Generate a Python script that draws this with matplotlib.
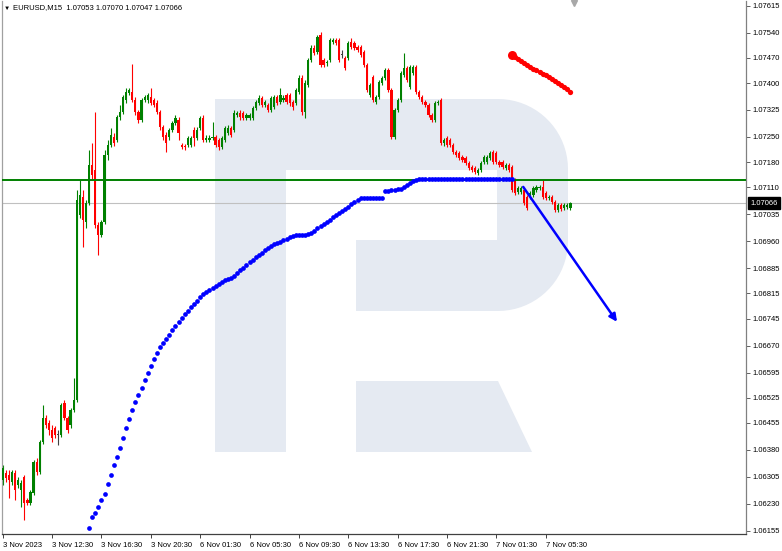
import numpy as np
import matplotlib
matplotlib.use("Agg")
import matplotlib.pyplot as plt
from matplotlib.patches import Polygon
import matplotlib.transforms as mtransforms

plt.rcParams['font.family'] = ['Liberation Sans', 'DejaVu Sans']

# EURUSD M15 candles, one entry per bar
opens = [
    1.06296, 1.06316, 1.06310, 1.06291, 1.06316, 1.06282, 1.06268, 1.06304, 1.06241, 1.06232,
    1.06260, 1.06346, 1.06318, 1.06402, 1.06469, 1.06455, 1.06435, 1.06441, 1.06421, 1.06421,
    1.06510, 1.06469, 1.06449, 1.06491, 1.06519, 1.07033, 1.07083, 1.07014, 1.07066, 1.07172,
    1.07158, 1.07005, 1.06977, 1.07014, 1.07200, 1.07228, 1.07250, 1.07242, 1.07306, 1.07320,
    1.07353, 1.07372, 1.07375, 1.07353, 1.07320, 1.07297, 1.07353, 1.07353, 1.07361, 1.07353,
    1.07345, 1.07320, 1.07278, 1.07256, 1.07250, 1.07270, 1.07289, 1.07297, 1.07228, 1.07225,
    1.07228, 1.07228, 1.07270, 1.07247, 1.07275, 1.07303, 1.07242, 1.07242, 1.07247, 1.07250,
    1.07242, 1.07222, 1.07242, 1.07261, 1.07275, 1.07270, 1.07311, 1.07317, 1.07317, 1.07303,
    1.07303, 1.07303, 1.07331, 1.07345, 1.07358, 1.07339, 1.07339, 1.07325, 1.07333, 1.07361,
    1.07347, 1.07353, 1.07367, 1.07367, 1.07347, 1.07345, 1.07375, 1.07414, 1.07320, 1.07395,
    1.07464, 1.07498, 1.07486, 1.07534, 1.07464, 1.07456, 1.07464, 1.07514, 1.07520, 1.07520,
    1.07478, 1.07470, 1.07470, 1.07514, 1.07511, 1.07500, 1.07500, 1.07486, 1.07450, 1.07367,
    1.07417, 1.07347, 1.07361, 1.07400, 1.07414, 1.07436, 1.07381, 1.07250, 1.07325, 1.07353,
    1.07422, 1.07442, 1.07389, 1.07428, 1.07445, 1.07375, 1.07361, 1.07347, 1.07339, 1.07311,
    1.07297, 1.07345, 1.07353, 1.07233, 1.07247, 1.07242, 1.07228, 1.07208, 1.07206, 1.07194,
    1.07192, 1.07178, 1.07167, 1.07164, 1.07150, 1.07158, 1.07181, 1.07181, 1.07192, 1.07208,
    1.07206, 1.07181, 1.07181, 1.07164, 1.07172, 1.07167, 1.07130, 1.07097, 1.07097, 1.07103,
    1.07083, 1.07083, 1.07089, 1.07103, 1.07108, 1.07111, 1.07094, 1.07080, 1.07083, 1.07069,
    1.07047, 1.07061, 1.07053, 1.07055, 1.07053]
closes = [
    1.06329, 1.06302, 1.06296, 1.06318, 1.06268, 1.06296, 1.06288, 1.06232, 1.06232, 1.06263,
    1.06346, 1.06318, 1.06402, 1.06469, 1.06449, 1.06435, 1.06413, 1.06421, 1.06421, 1.06505,
    1.06469, 1.06435, 1.06491, 1.06519, 1.07075, 1.07089, 1.07019, 1.07066, 1.07172, 1.07144,
    1.07005, 1.06977, 1.07014, 1.07200, 1.07228, 1.07256, 1.07233, 1.07306, 1.07320, 1.07361,
    1.07375, 1.07381, 1.07353, 1.07320, 1.07297, 1.07353, 1.07361, 1.07367, 1.07345, 1.07339,
    1.07320, 1.07278, 1.07250, 1.07233, 1.07270, 1.07289, 1.07303, 1.07261, 1.07222, 1.07222,
    1.07247, 1.07247, 1.07247, 1.07270, 1.07303, 1.07242, 1.07247, 1.07247, 1.07250, 1.07228,
    1.07222, 1.07247, 1.07275, 1.07275, 1.07256, 1.07317, 1.07317, 1.07306, 1.07303, 1.07311,
    1.07311, 1.07331, 1.07347, 1.07358, 1.07339, 1.07347, 1.07325, 1.07358, 1.07361, 1.07345,
    1.07367, 1.07358, 1.07347, 1.07345, 1.07333, 1.07381, 1.07414, 1.07320, 1.07400, 1.07464,
    1.07498, 1.07484, 1.07528, 1.07450, 1.07450, 1.07459, 1.07520, 1.07520, 1.07511, 1.07464,
    1.07478, 1.07442, 1.07511, 1.07500, 1.07498, 1.07492, 1.07478, 1.07450, 1.07381, 1.07395,
    1.07353, 1.07361, 1.07403, 1.07414, 1.07436, 1.07381, 1.07250, 1.07325, 1.07353, 1.07428,
    1.07442, 1.07409, 1.07445, 1.07445, 1.07375, 1.07361, 1.07347, 1.07339, 1.07311, 1.07297,
    1.07345, 1.07347, 1.07233, 1.07242, 1.07228, 1.07228, 1.07208, 1.07200, 1.07192, 1.07186,
    1.07178, 1.07164, 1.07158, 1.07153, 1.07158, 1.07178, 1.07194, 1.07194, 1.07206, 1.07181,
    1.07181, 1.07172, 1.07167, 1.07172, 1.07158, 1.07103, 1.07094, 1.07108, 1.07108, 1.07066,
    1.07053, 1.07094, 1.07108, 1.07111, 1.07111, 1.07083, 1.07080, 1.07083, 1.07069, 1.07047,
    1.07061, 1.07050, 1.07061, 1.07061, 1.07066]
highs = [
    1.06338, 1.06324, 1.06324, 1.06324, 1.06324, 1.06304, 1.06296, 1.06310, 1.06246, 1.06268,
    1.06352, 1.06357, 1.06407, 1.06505, 1.06477, 1.06463, 1.06449, 1.06446, 1.06435, 1.06510,
    1.06519, 1.06474, 1.06496, 1.06580, 1.07103, 1.07130, 1.07103, 1.07075, 1.07214, 1.07233,
    1.07320, 1.07014, 1.07019, 1.07214, 1.07242, 1.07275, 1.07261, 1.07311, 1.07339, 1.07367,
    1.07386, 1.07386, 1.07453, 1.07361, 1.07325, 1.07358, 1.07367, 1.07372, 1.07386, 1.07358,
    1.07353, 1.07325, 1.07283, 1.07264, 1.07275, 1.07295, 1.07311, 1.07306, 1.07233, 1.07230,
    1.07253, 1.07253, 1.07278, 1.07278, 1.07308, 1.07311, 1.07256, 1.07256, 1.07292, 1.07256,
    1.07247, 1.07253, 1.07281, 1.07283, 1.07281, 1.07325, 1.07322, 1.07325, 1.07322, 1.07317,
    1.07317, 1.07336, 1.07353, 1.07367, 1.07364, 1.07353, 1.07345, 1.07364, 1.07367, 1.07367,
    1.07386, 1.07367, 1.07372, 1.07372, 1.07353, 1.07386, 1.07422, 1.07422, 1.07409, 1.07470,
    1.07506, 1.07506, 1.07534, 1.07542, 1.07470, 1.07464, 1.07525, 1.07525, 1.07525, 1.07525,
    1.07492, 1.07475, 1.07517, 1.07525, 1.07517, 1.07506, 1.07506, 1.07492, 1.07456, 1.07400,
    1.07422, 1.07367, 1.07409, 1.07420, 1.07442, 1.07442, 1.07386, 1.07331, 1.07358, 1.07434,
    1.07484, 1.07447, 1.07450, 1.07450, 1.07450, 1.07381, 1.07367, 1.07353, 1.07345, 1.07317,
    1.07350, 1.07353, 1.07358, 1.07247, 1.07253, 1.07247, 1.07233, 1.07214, 1.07211, 1.07200,
    1.07197, 1.07183, 1.07172, 1.07169, 1.07164, 1.07183, 1.07200, 1.07200, 1.07211, 1.07214,
    1.07211, 1.07186, 1.07186, 1.07178, 1.07178, 1.07172, 1.07136, 1.07114, 1.07114, 1.07108,
    1.07089, 1.07100, 1.07114, 1.07117, 1.07117, 1.07130, 1.07100, 1.07089, 1.07089, 1.07075,
    1.07066, 1.07066, 1.07066, 1.07066, 1.07070]
lows = [
    1.06282, 1.06291, 1.06246, 1.06282, 1.06241, 1.06274, 1.06221, 1.06185, 1.06227, 1.06227,
    1.06254, 1.06310, 1.06313, 1.06396, 1.06441, 1.06421, 1.06402, 1.06413, 1.06393, 1.06416,
    1.06463, 1.06427, 1.06441, 1.06485, 1.06513, 1.07025, 1.06944, 1.06997, 1.07061, 1.07130,
    1.06997, 1.06922, 1.06972, 1.07008, 1.07186, 1.07222, 1.07225, 1.07236, 1.07297, 1.07314,
    1.07345, 1.07367, 1.07347, 1.07311, 1.07289, 1.07292, 1.07347, 1.07345, 1.07339, 1.07333,
    1.07314, 1.07270, 1.07242, 1.07208, 1.07242, 1.07264, 1.07283, 1.07242, 1.07217, 1.07214,
    1.07222, 1.07222, 1.07225, 1.07242, 1.07270, 1.07236, 1.07236, 1.07236, 1.07242, 1.07222,
    1.07214, 1.07217, 1.07236, 1.07256, 1.07250, 1.07264, 1.07306, 1.07297, 1.07297, 1.07297,
    1.07297, 1.07297, 1.07325, 1.07339, 1.07333, 1.07333, 1.07320, 1.07320, 1.07328, 1.07339,
    1.07342, 1.07347, 1.07342, 1.07336, 1.07325, 1.07339, 1.07370, 1.07311, 1.07303, 1.07389,
    1.07459, 1.07478, 1.07481, 1.07445, 1.07445, 1.07447, 1.07459, 1.07509, 1.07506, 1.07459,
    1.07470, 1.07436, 1.07464, 1.07495, 1.07492, 1.07486, 1.07472, 1.07445, 1.07375, 1.07361,
    1.07347, 1.07342, 1.07356, 1.07395, 1.07409, 1.07375, 1.07244, 1.07244, 1.07320, 1.07347,
    1.07417, 1.07403, 1.07384, 1.07422, 1.07370, 1.07356, 1.07342, 1.07333, 1.07306, 1.07292,
    1.07292, 1.07339, 1.07228, 1.07225, 1.07222, 1.07222, 1.07203, 1.07194, 1.07186, 1.07181,
    1.07172, 1.07158, 1.07153, 1.07147, 1.07144, 1.07153, 1.07175, 1.07175, 1.07186, 1.07175,
    1.07175, 1.07167, 1.07161, 1.07158, 1.07153, 1.07097, 1.07089, 1.07091, 1.07091, 1.07061,
    1.07047, 1.07078, 1.07083, 1.07097, 1.07103, 1.07078, 1.07075, 1.07075, 1.07064, 1.07041,
    1.07041, 1.07044, 1.07047, 1.07050, 1.07047]

# blue indicator dots, starting at bar 28
blue_start = 28
blue_dots = [
    1.06163, 1.06193, 1.06204, 1.06221, 1.06241, 1.06257, 1.06285, 1.06310, 1.06338, 1.06360,
    1.06385, 1.06413, 1.06441, 1.06466, 1.06491, 1.06513, 1.06532, 1.06552, 1.06574, 1.06594,
    1.06613, 1.06633, 1.06649, 1.06666, 1.06677, 1.06688, 1.06699, 1.06713, 1.06724, 1.06736,
    1.06747, 1.06758, 1.06766, 1.06777, 1.06786, 1.06794, 1.06805, 1.06813, 1.06819, 1.06825,
    1.06830, 1.06836, 1.06841, 1.06847, 1.06852, 1.06855, 1.06858, 1.06863, 1.06872, 1.06880,
    1.06886, 1.06894, 1.06902, 1.06908, 1.06916, 1.06922, 1.06927, 1.06936, 1.06941, 1.06947,
    1.06952, 1.06955, 1.06958, 1.06964, 1.06966, 1.06972, 1.06975, 1.06977, 1.06977, 1.06977,
    1.06977, 1.06980, 1.06983, 1.06989, 1.06997, 1.07003, 1.07008, 1.07014, 1.07019, 1.07028,
    1.07033, 1.07039, 1.07044, 1.07050, 1.07055, 1.07064, 1.07069, 1.07075, 1.07080, 1.07080,
    1.07080, 1.07080, 1.07080, 1.07080, 1.07080, 1.07080, 1.07100, 1.07100, 1.07103, 1.07103,
    1.07105, 1.07105, 1.07111, 1.07117, 1.07122, 1.07128, 1.07130, 1.07133, 1.07133, 1.07133,
    1.07133, 1.07133, 1.07133, 1.07133, 1.07133, 1.07133, 1.07133, 1.07133, 1.07133, 1.07133,
    1.07133, 1.07133, 1.07133, 1.07133, 1.07133, 1.07133, 1.07133, 1.07133, 1.07133, 1.07133,
    1.07133, 1.07133, 1.07133, 1.07133, 1.07133, 1.07133, 1.07133, 1.07133]

# red indicator dots, starting at bar 165
red_start = 165
red_dots = [
    1.07478, 1.07472, 1.07467, 1.07461, 1.07456, 1.07450, 1.07445, 1.07439, 1.07436, 1.07431,
    1.07425, 1.07422, 1.07417, 1.07411, 1.07406, 1.07400, 1.07395, 1.07389, 1.07384, 1.07375]

level_green = 1.07130
arrow_from = (168.7, 1.07111)
arrow_to = (199.1, 1.06736)

header = "EURUSD,M15  1.07053 1.07070 1.07047 1.07066"
ylabels = ['1.07615', '1.07540', '1.07470', '1.07400', '1.07325', '1.07250', '1.07180',
           '1.07110', '1.07035', '1.06960', '1.06885', '1.06815', '1.06745', '1.06670',
           '1.06595', '1.06525', '1.06455', '1.06380', '1.06305', '1.06230', '1.06155']
xlabels = ['3 Nov 2023', '3 Nov 12:30', '3 Nov 16:30', '3 Nov 20:30', '6 Nov 01:30',
           '6 Nov 05:30', '6 Nov 09:30', '6 Nov 13:30', '6 Nov 17:30', '6 Nov 21:30',
           '7 Nov 01:30', '7 Nov 05:30']
xtick_bars = [0, 16, 32, 48, 64, 80, 96, 112, 128, 144, 160, 176]

fig = plt.figure(figsize=(7.82, 5.51), dpi=100)

# watermark logo, drawn in pixel space behind the chart
bg = fig.add_axes([0, 0, 1, 1], zorder=0)
bg.set_xlim(0, 782)
bg.set_ylim(551, 0)
bg.axis('off')

def arc(cx, cy, r, a0, a1):
    t = np.radians(np.linspace(a0, a1, 20))
    return list(zip(cx + r * np.cos(t), cy + r * np.sin(t)))

wm = '#e5eaf2'
body = ([(215, 99)] + arc(498, 169, 70, -90, 0) + arc(498, 241, 70, 0, 90) +
        [(356, 311), (356, 240), (497, 240), (497, 170), (286, 170), (286, 452), (215, 452)])
bg.add_patch(Polygon(body, closed=True, fc=wm, ec='none'))
bg.add_patch(Polygon([(356, 381), (498, 381), (532, 452), (356, 452)], closed=True, fc=wm, ec='none'))

ax = fig.add_axes([2 / 782, 17 / 551, 744 / 782, 533 / 551], zorder=1)
ax.patch.set_alpha(0)
ax.set_xlim(-0.23, 240.9)
ax.set_ylim(1.06146, 1.07628)

o = np.array(opens)
c = np.array(closes)
bars = np.arange(len(o))
cols = np.where(c > o, '#008000', np.where(c < o, '#ff0000', '#404040'))

ax.axhline(closes[-1], color='#c0c0c0', lw=0.8, zorder=1)
ax.vlines(bars, lows, highs, colors=cols, lw=0.8, zorder=2)
ax.bar(bars, np.maximum(np.abs(c - o), 0.00003), bottom=np.minimum(o, c),
       width=0.72, color=cols, linewidth=0, zorder=3)

ax.axhline(level_green, color='#008000', lw=1.4, zorder=4)

ax.plot(np.arange(blue_start, blue_start + len(blue_dots)), blue_dots, 'o',
        color='#0000ff', ms=3.4, mew=0, zorder=5)
ax.plot(np.arange(red_start, red_start + len(red_dots)), red_dots, 'o',
        color='#ff0000', ms=3.8, mew=0, zorder=5)
ax.plot(red_start, red_dots[0], 'o', color='#ff0000', ms=6.5, mew=0, zorder=5)

ax.annotate('', xy=arrow_to, xytext=arrow_from,
            arrowprops=dict(arrowstyle='-|>', color='#0000ff', lw=1.8,
                            mutation_scale=11, shrinkA=0, shrinkB=0), zorder=6)

# axes
for s in ['top']:
    ax.spines[s].set_visible(False)
ax.spines['left'].set_color('#a0a0a0')
ax.spines['right'].set_color('#808080')
ax.spines['bottom'].set_color('#404040')
for s in ['left', 'right', 'bottom']:
    ax.spines[s].set_linewidth(0.9)

ax.yaxis.tick_right()
ax.set_yticks([float(v) for v in ylabels])
ax.set_yticklabels(ylabels)
ax.tick_params(axis='y', direction='out', length=3, width=0.7, color='#606060',
               labelsize=5.5, pad=2)
ax.set_xticks(xtick_bars)
ax.set_xticklabels(xlabels, ha='left')
ax.tick_params(axis='x', direction='out', length=3, width=0.7, color='#404040',
               labelsize=5.5, pad=3)

# current price box on the price scale
trans = mtransforms.blended_transform_factory(ax.transAxes, ax.transData)
ax.text(1.006, closes[-1], '1.07066', transform=trans, color='white', fontsize=5.5,
        va='center', ha='left', zorder=10, clip_on=False,
        bbox=dict(boxstyle='square,pad=0.3', fc='black', ec='black'))

# chart shift marker
ax.plot(185, 1.07622, marker='v', ms=5, color='#a8a8a8', clip_on=False, zorder=10)

fig.text(4 / 782, 1 - 8 / 551, '\u25bc', fontsize=4.5, va='center', ha='left')
fig.text(13 / 782, 1 - 8 / 551, header, fontsize=5.5, va='center', ha='left')

fig.savefig('out.png', dpi=100)
